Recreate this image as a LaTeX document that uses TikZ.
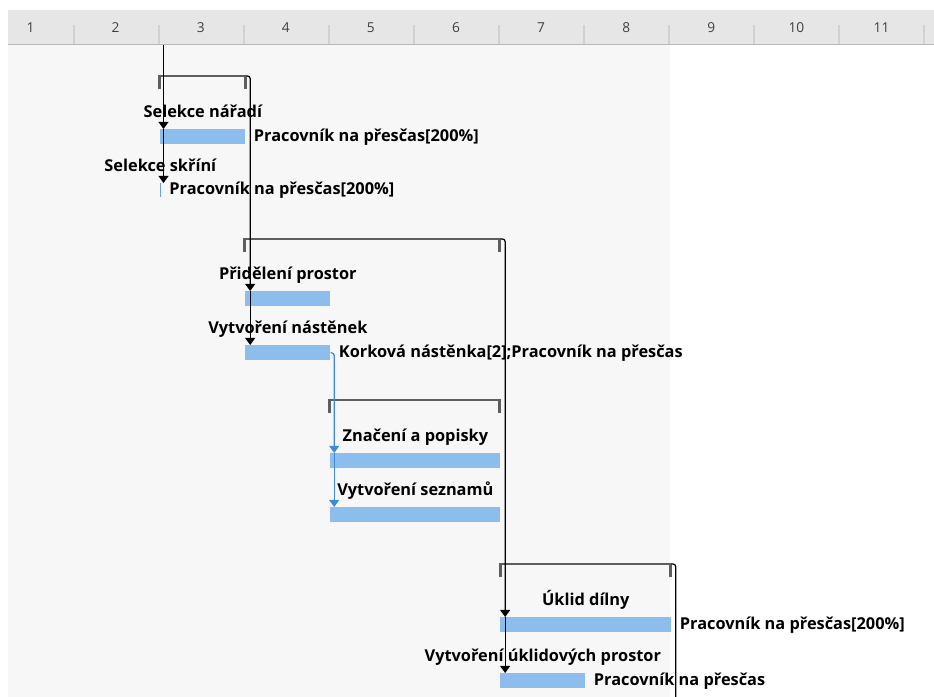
\documentclass[tikz,border=0pt]{standalone}
\usepackage{fontspec}
\setmainfont{Open Sans}
\usetikzlibrary{calc}
\usetikzlibrary{positioning}
\usetikzlibrary{arrows.meta}
\definecolor{barblue}{HTML}{8DBDEC}
\definecolor{linkblue}{HTML}{3D8BD9}
\definecolor{sumgray}{HTML}{5E5E5E}
\definecolor{chartbg}{HTML}{F7F7F7}
\definecolor{headbg}{HTML}{E6E6E6}
\tikzset{
  taskbar/.style={
    fill=barblue,
    shape=rectangle,
    anchor=north west,
    inner sep=0pt,
    minimum height=0.3cm,
  },
  sumbox/.style={
    shape=rectangle,
    anchor=north west,
    inner sep=0pt,
    minimum height=0.24cm,
  },
  taskname/.style={
    font=\bfseries\fontsize{9.3}{11}\selectfont,
    inner sep=0pt,
    text height=7pt,
    text depth=2pt,
  },
  reslabel/.style={
    taskname,
  },
  link/.style={
    draw=black,
    line width=0.7pt,
    -{Triangle[width=5.6pt,length=4pt]},
  },
  bluelink/.style={
    link,
    draw=linkblue,
  },
  daynum/.style={
    font=\fontsize{7.8}{9}\selectfont,
    text=black!75,
  },
}

\begin{document}
\begin{tikzpicture}[x=0.02cm,y=-0.02cm]
  \useasboundingbox (0,0) rectangle (934,697);
  % time scale
  \fill[headbg] (8,10) rectangle (934,44);
  \fill[chartbg] (8,45) rectangle (670,697);
  \foreach \d in {1,...,11} {
    \draw[black!18, line width=0.6pt] ({74+85*(\d-1)},25) -- ++(0,19);
    \node[daynum] (day\d) at ({30.5+85.1*(\d-1)},28) {\d};
  }
  \draw[black!28, line width=1.1pt] (8,44.5) -- (934,44.5);

  % summary brackets
  \node[sumbox, minimum width=1.76cm] (s1) at (158,76) {};
  \node[sumbox, minimum width=5.14cm] (s2) at (243,239) {};
  \node[sumbox, minimum width=3.44cm] (s3) at (328,400) {};
  \node[sumbox, minimum width=3.44cm] (s4) at (499,564) {};
  \foreach \s in {s1,s2,s3,s4} {
    \draw[sumgray, line width=1.1pt] (\s.north west) -- (\s.north east);
    \draw[sumgray, line width=1.8pt] ($(\s.north west)+(1.5,0)$) -- ($(\s.south west)+(1.5,0)$);
    \draw[sumgray, line width=1.8pt] ($(\s.north east)+(-1.5,0)$) -- ($(\s.south east)+(-1.5,0)$);
  }

  % tasks
  \node[taskbar, minimum width=1.70cm] (nar) at (160,129) {};
  \node[taskbar, minimum width=0.02cm, minimum height=0.28cm, fill=linkblue!80] (skr) at (159.5,183) {};
  \node[taskbar, minimum width=1.70cm] (prid) at (245,291) {};
  \node[taskbar, minimum width=1.70cm] (vytn) at (245,345) {};
  \node[taskbar, minimum width=3.40cm] (zna) at (330,453) {};
  \node[taskbar, minimum width=3.40cm] (sez) at (330,507) {};
  \node[taskbar, minimum width=3.42cm] (ukl) at (500,617) {};
  \node[taskbar, minimum width=1.70cm] (ukp) at (500,673) {};

  \node[taskname, above=4.2pt of nar] (nar-n) {Selekce nářadí};
  \node[taskname, above=4.2pt of skr] (skr-n) {Selekce skříní};
  \node[taskname, above=4.2pt of prid] (prid-n) {Přidělení prostor};
  \node[taskname, above=4.2pt of vytn] (vytn-n) {Vytvoření nástěnek};
  \node[taskname, above=4.2pt of zna] (zna-n) {Značení a popisky};
  \node[taskname, above=4.2pt of sez] (sez-n) {Vytvoření seznamů};
  \node[taskname, above=4.2pt of ukl] (ukl-n) {Úklid dílny};
  \node[taskname, above=4.2pt of ukp] (ukp-n) {Vytvoření úklidových prostor};

  \node[reslabel, right=4.5pt of nar] (nar-r) {Pracovník na přesčas[200\%]};
  \node[reslabel, right=4.5pt of skr] (skr-r) {Pracovník na přesčas[200\%]};
  \node[reslabel, right=4.5pt of vytn] (vytn-r) {Korková nástěnka[2];Pracovník na přesčas};
  \node[reslabel, right=4.5pt of ukl] (ukl-r) {Pracovník na přesčas[200\%]};
  \node[reslabel, right=4.5pt of ukp] (ukp-r) {Pracovník na přesčas};

  % links
  \coordinate (j1) at (163.5,45);
  \draw[link] (j1) -- (j1 |- nar.north);
  \draw[link] (j1 |- nar.north) -- (j1 |- skr.north);

  \coordinate (j2) at ($(s1.north east)+(3.5,0)$);
  \draw[link, rounded corners=1.5pt] (s1.north east) -- (j2) -- (j2 |- prid.north);
  \draw[link] (j2 |- prid.north) -- (j2 |- vytn.north);

  \coordinate (j3) at ($(s2.north east)+(4.5,0)$);
  \draw[link, rounded corners=1.5pt] (s2.north east) -- (j3) -- (j3 |- ukl.north);
  \draw[link] (j3 |- ukl.north) -- (j3 |- ukp.north);

  \coordinate (j4) at ($(vytn.east)+(3.5,0)$);
  \draw[bluelink, rounded corners=1.5pt] (vytn.east) -- (j4) -- (j4 |- zna.north);
  \draw[bluelink] (j4 |- zna.north) -- (j4 |- sez.north);

  \coordinate (j5) at ($(s4.north east)+(4,0)$);
  \coordinate (j5end) at (j5 |- 0,697);
  \draw[link, -, rounded corners=1.5pt] (s4.north east) -- (j5) -- (j5end);
\end{tikzpicture}
\end{document}
